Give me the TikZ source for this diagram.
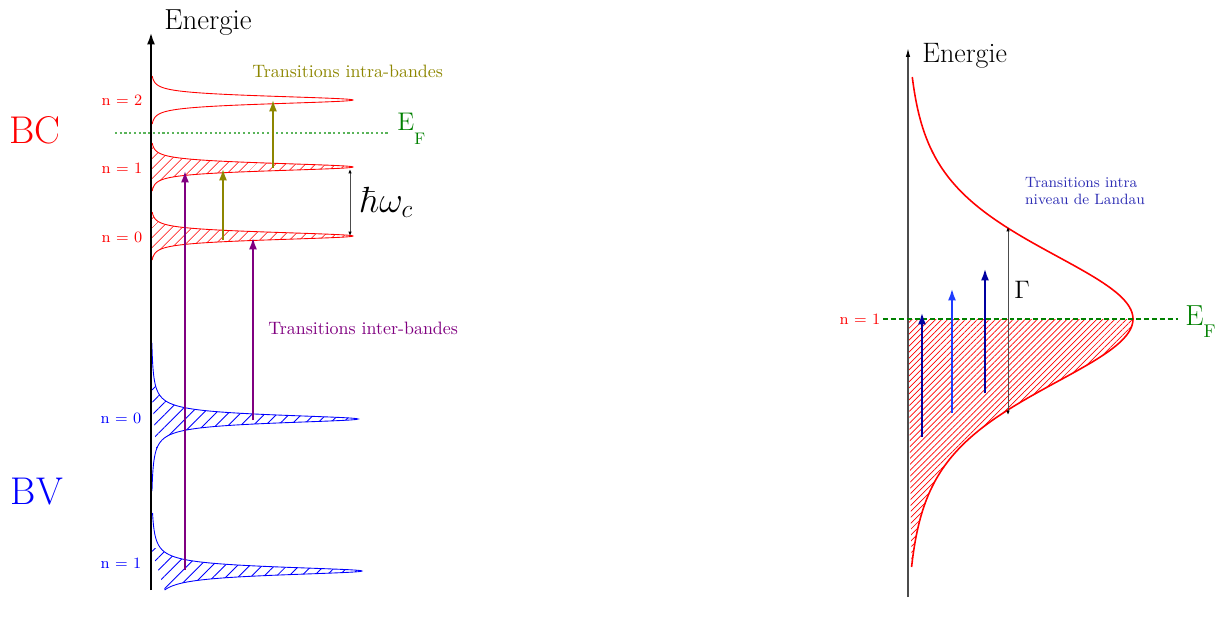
\documentclass[tikz,border=0pt]{standalone}
\usetikzlibrary{arrows.meta,patterns.meta}
\definecolor{efgreen}{rgb}{0,0.5,0}
\definecolor{eflight}{RGB}{90,180,90}
\definecolor{darkblue}{RGB}{0,0,160}
\definecolor{brightblue}{RGB}{30,60,255}
\definecolor{landaublue}{RGB}{45,45,180}
\begin{document}
\begin{tikzpicture}[x=0.02cm, y=-0.02cm,
    redlevel/.style={red, line width=0.5pt},
    bluelevel/.style={blue, line width=0.5pt},
    redhatch/.style={pattern={Lines[angle=45,distance=4pt,line width=0.4pt]}, pattern color=red},
    bluehatch/.style={pattern={Lines[angle=45,distance=5pt,line width=0.5pt]}, pattern color=blue},
    finehatch/.style={pattern={Lines[angle=45,distance=2.4pt,line width=0.4pt]}, pattern color=red},
    trans/.style={line width=1.5pt, -{Latex[length=7pt,width=4.5pt]}},
    gap/.style={gray!60!black, line width=0.5pt, {Latex[length=2.5pt,width=2pt,black]}-{Latex[length=2.5pt,width=2pt,black]}},
    lvl/.style={font=\fontsize{9}{10}\selectfont},
    band/.style={font=\fontsize{22}{26}\selectfont},
    axlabel/.style={anchor=base west, inner sep=0pt},
    fermi/.style={anchor=base west, inner sep=0pt, efgreen},
    note/.style={anchor=west, inner sep=0pt, font=\fontsize{10.2}{12}\selectfont}]
\useasboundingbox (0,0) rectangle (1218,629);

% gauche : niveaux de Landau, BC et BV
\foreach \yo in {167,236}
  \fill[redhatch] (151,\yo-24) -- plot[domain=-24:24, samples=193] ({151+202/(1+(\x/7)^2)^2}, {\yo+\x}) -- cycle;
\fill[bluehatch] (151,383) -- plot[domain=-36:31, samples=269] ({151+207/(1+(\x/5)^2)}, {419+\x}) -- cycle;
\fill[bluehatch] (151,548) -- plot[domain=-23:19, samples=170] ({151+211/(1+(\x/5)^2)}, {571+\x}) -- cycle;
\foreach \yo in {100,167,236}
  \draw[redlevel] plot[domain=-24:24, samples=193] ({151+202/(1+(\x/7)^2)^2}, {\yo+\x});
\draw[bluelevel] plot[domain=-76:72, samples=297] ({151+207/(1+(\x/5)^2)}, {419+\x});
\draw[bluelevel] plot[domain=-58:19, samples=309] ({151+211/(1+(\x/5)^2)}, {571+\x});

\draw[line width=1.4pt, -{Latex[length=7pt,width=4.5pt]}] (151,590) -- (151,32);
\draw[eflight, line width=0.8pt, dash pattern=on 1.2pt off 1.5pt] (115,133) -- (388,133);

\draw[trans, olive] (223,240) -- (223,168);
\draw[trans, olive] (273,168) -- (273,99);
\draw[trans, violet] (185,570) -- (185,170);
\draw[trans, violet] (253,420) -- (253,237);
\draw[gap] (350,169) -- (350,236);

\node[band, red] (bc) at (35,130) {BC};
\node[band, blue] (bv) at (37,492) {BV};
\node[axlabel, font=\fontsize{16.5}{19}\selectfont] (energieL) at (164,29) {Energie};
\node[fermi, font=\fontsize{14.5}{17}\selectfont] (efL) at (397,130) {E\raisebox{-8.5pt}{\fontsize{9.5}{11}\selectfont F}};
\node[lvl, red] (n2) at (122,100) {n = 2};
\node[lvl, red] (n1) at (122,168) {n = 1};
\node[lvl, red] (n0) at (122,237) {n = 0};
\node[lvl, blue] (v0) at (121,418) {n = 0};
\node[lvl, blue] (v1) at (121,563) {n = 1};
\node[anchor=base west, inner sep=0pt, font=\fontsize{21}{24}\selectfont] (hw) at (360,212) {$\hbar\omega_c$};
\node[note, olive] (intra) at (252,71) {Transitions intra-bandes};
\node[note, violet] (inter) at (268,328) {Transitions inter-bandes};

% droite : un niveau elargi
\fill[finehatch] (908,319) -- plot[domain=0:248, samples=125] ({908+228/(1+(\x/165)^2)^3-3}, {319+\x}) -- cycle;
\draw[red, line width=0.9pt] plot[domain=-242:248, samples=246] ({908+228/(1+(\x/165)^2)^3-3}, {319+\x});
\draw[gray!60!black, line width=0.7pt, -{Latex[length=5pt,width=2.5pt,black]}] (908,597) -- (908,48);
\draw[efgreen, line width=0.6pt, dash pattern=on 2.8pt off 1.7pt] (883,319) -- (1178,319);

\draw[trans, darkblue] (922,437) -- (922,312);
\draw[trans, brightblue] (952,413) -- (952,288);
\draw[trans, darkblue] (985,393) -- (985,268);
\draw[gap] (1008,415) -- (1008,227);

\node[axlabel, font=\fontsize{16}{19}\selectfont] (energieR) at (922,62) {Energie};
\node[fermi, font=\fontsize{16.5}{19}\selectfont] (efR) at (1185,325) {E\raisebox{-7pt}{\fontsize{10.5}{12}\selectfont F}};
\node[lvl, red] (m1) at (860,319) {n = 1};
\node[anchor=base west, inner sep=0pt, font=\fontsize{15}{18}\selectfont] (gam) at (1014,298) {$\Gamma$};
\node[landaublue, align=left, font=\fontsize{8.5}{10.2}\selectfont] (landau) at (1085,191) {Transitions intra\\niveau de Landau};
\end{tikzpicture}
\end{document}
